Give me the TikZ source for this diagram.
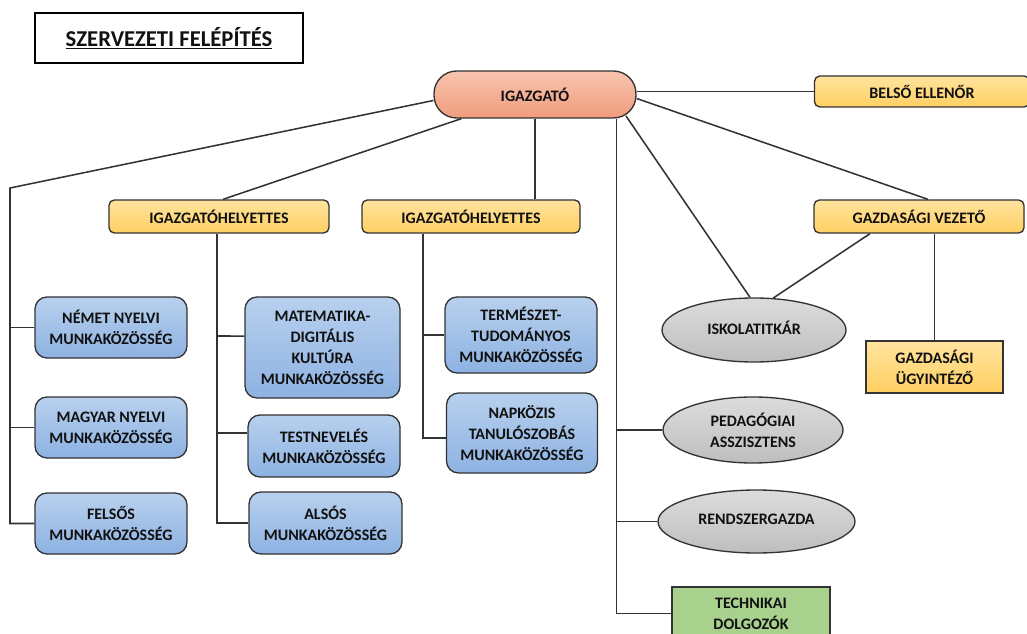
\documentclass[tikz,border=0pt]{standalone}
\usepackage{fontspec}
\setmainfont{Carlito}
\usetikzlibrary{shapes.geometric,calc}
\definecolor{bd}{HTML}{333333}
\definecolor{txt}{HTML}{111111}
\definecolor{sal1}{HTML}{F8C4AF}
\definecolor{sal2}{HTML}{F09C7C}
\definecolor{yl1}{HTML}{FFE39E}
\definecolor{yl2}{HTML}{FFD062}
\definecolor{bl1}{HTML}{B8D0EE}
\definecolor{bl2}{HTML}{8DB2E2}
\definecolor{gr1}{HTML}{DCDCDC}
\definecolor{gr2}{HTML}{BEBEBE}
\definecolor{grn}{HTML}{A9D18E}
\begin{document}
\begin{tikzpicture}[x=0.75pt,y=-0.75pt,
  sz/.style 2 args={minimum width=#1*0.75pt, minimum height=#2*0.75pt},
  lbl/.style={font=\fontsize{12}{15.75}\selectfont\bfseries, text=txt, align=center, inner sep=0pt},
  yelbox/.style={lbl, draw=bd, line width=1pt, rounded corners=4pt, top color=yl1, bottom color=yl2},
  yelsq/.style={lbl, draw=bd, line width=1.1pt, top color=yl1, bottom color=yl2},
  bluebox/.style={lbl, draw=bd, line width=1pt, rounded corners=9pt, top color=bl1, bottom color=bl2},
  greybox/.style={lbl, ellipse, draw=bd, line width=1pt, top color=gr1, bottom color=gr2},
  greenbox/.style={lbl, draw=bd, line width=1.1pt, fill=grn},
  pill/.style={lbl, draw=bd, line width=1pt, rounded corners=17pt, top color=sal1, bottom color=sal2},
  titlebox/.style={draw=black, line width=0.8pt, font=\fontsize{17}{20}\selectfont\bfseries, text=txt, inner sep=0pt},
  conn/.style={draw=bd, line width=1.15pt}
]
\useasboundingbox (0,0) rectangle (1027,634);
\fill[white] (0,0) rectangle (1027,634);

% nodes
\node[titlebox, sz={268}{50}] (title) at (169,38) {\underline{SZERVEZETI FELÉPÍTÉS}};
\node[pill, sz={202}{47}] (igaz) at (535,94.5) {IGAZGATÓ};
\node[yelbox, sz={215}{31}] (belso) at (922,91.5) {BELSŐ ELLENŐR};
\node[yelbox, sz={220}{33}] (igh1) at (219,216.5) {IGAZGATÓHELYETTES};
\node[yelbox, sz={218}{33}] (igh2) at (471,216.5) {IGAZGATÓHELYETTES};
\node[yelbox, sz={210}{33}] (gv) at (919,216.5) {GAZDASÁGI VEZETŐ};
\node[yelsq, sz={137}{52}] (gu) at (934.5,367) {GAZDASÁGI\\ÜGYINTÉZŐ};

\node[bluebox, sz={152}{61}] (nemet) at (111,327.5) {NÉMET NYELVI\\MUNKAKÖZÖSSÉG};
\node[bluebox, sz={152}{61}] (magyar) at (111,427.5) {MAGYAR NYELVI\\MUNKAKÖZÖSSÉG};
\node[bluebox, sz={152}{61}] (felsos) at (111,523.5) {FELSŐS\\MUNKAKÖZÖSSÉG};
\node[bluebox, sz={155}{101}] (matek) at (322.5,347.5) {MATEMATIKA-\\DIGITÁLIS\\KULTÚRA\\MUNKAKÖZÖSSÉG};
\node[bluebox, sz={152}{62}] (testnev) at (324,446) {TESTNEVELÉS\\MUNKAKÖZÖSSÉG};
\node[bluebox, sz={153}{62}] (also) at (325.5,523) {ALSÓS\\MUNKAKÖZÖSSÉG};
\node[bluebox, sz={152}{76}] (term) at (521,335) {TERMÉSZET-\\TUDOMÁNYOS\\MUNKAKÖZÖSSÉG};
\node[bluebox, sz={151}{80}] (napk) at (522,433) {NAPKÖZIS\\TANULÓSZOBÁS\\MUNKAKÖZÖSSÉG};

\node[greybox, sz={184}{64}] (iskola) at (754,330) {\raisebox{3pt}{ISKOLATITKÁR}};
\node[greybox, sz={180}{66}] (pedag) at (753,430) {PEDAGÓGIAI\\ASSZISZTENS};
\node[greybox, sz={197}{63}] (rendsz) at (756.5,521.5) {\raisebox{3pt}{RENDSZERGAZDA}};
\node[greenbox, sz={158}{53}] (tech) at (751,613.5) {TECHNIKAI\\DOLGOZÓK};

% connectors
\coordinate (lt) at (10,188);
\draw[conn] ([yshift=-4.5pt]igaz.west) -- (lt) |- (felsos.west);
\draw[conn] (lt |- nemet.west) -- (nemet.west);
\draw[conn] (lt |- magyar.west) -- (magyar.west);

\draw[conn] ([xshift=21pt]igaz.south west) -- ([xshift=3pt]igh1.north);
\coordinate (c1) at ([xshift=-1.5pt]igh1.south);
\draw[conn] (c1) |- (also.west);
\draw[conn] (c1 |- 0,336) -- ([yshift=8.6pt]matek.west);
\draw[conn] (c1 |- 0,433) -- ([yshift=9.75pt]testnev.west);

\draw[conn] (igaz.south) -- (igaz.south |- igh2.north);
\coordinate (c2) at ([xshift=-36pt]igh2.south);
\draw[conn] (c2) |- ([yshift=-3.75pt]napk.west);
\draw[conn] (c2 |- term.west) -- (term.west);

\draw[conn] (belso.west -| igaz.east) -- (belso.west);
\draw[conn] ([yshift=-3pt]igaz.east) -- ([xshift=6.75pt]gv.north);

\coordinate (c3) at ([xshift=61pt]igaz.south);
\draw[conn] (c3) |- (tech.west);
\draw[conn] (c3 |- pedag.west) -- (pedag.west);
\draw[conn] (c3 |- rendsz.west) -- (rendsz.west);

\draw[conn] ([xshift=-8pt,yshift=2pt]igaz.south east) -- (iskola.97);
\draw[conn] ([xshift=-36.75pt]gv.south) -- (iskola.59);
\draw[conn] (gu.north |- gv.south) -- (gu.north);
\end{tikzpicture}
\end{document}
